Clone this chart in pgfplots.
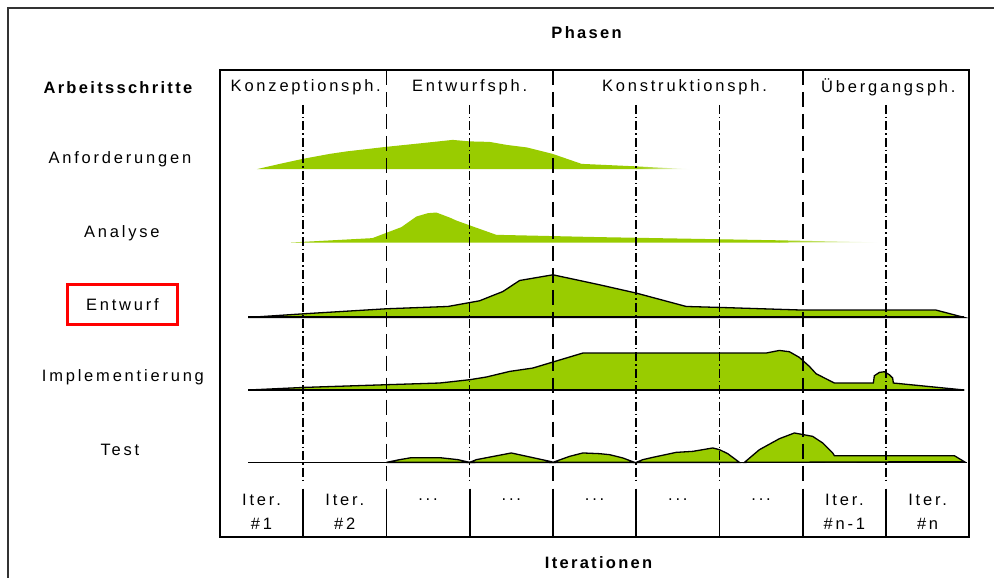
\documentclass[border=0pt]{standalone}
\usepackage{pgfplots}
\pgfplotsset{compat=1.18}
\usepackage{fontspec}
\setmainfont{Liberation Sans}
\newfontfamily\spfont{Liberation Sans}[LetterSpace=17]
\newfontfamily\spbfont{Liberation Sans}[LetterSpace=14]
\definecolor{hg}{HTML}{99CC00}
\newcommand{\lf}{\spfont\fontsize{16.5bp}{19bp}\selectfont}
\newcommand{\bfl}{\spbfont\fontsize{16.5bp}{19bp}\selectfont\bfseries}
\begin{document}
\begin{tikzpicture}
\begin{axis}[
  scale only axis, width=995bp, height=578bp,
  xmin=0,xmax=995,ymin=0,ymax=578, y dir=reverse,
  hide axis, clip=false]
\path[fill=white] (axis cs:0,0) rectangle (axis cs:995,578);
% outer frame
\draw[line width=1.5bp, black!80] (axis cs:8,578) -- (axis cs:8,8) -- (axis cs:995,8);

% ---- humps ----
% Anforderungen
\addplot[draw=none, fill=hg] coordinates {(257,169.3) (280,164) (303,159) (330,154) (347,151.5) (386,147) (420,143.5) (453,140) (470,141.5) (490,142) (507,145) (527,147.5) (553,154) (582,164) (637,166.5) (637,169.3)} -- cycle;
\addplot[draw=none, left color=hg, right color=white] coordinates {(636.5,166.5) (690,169.3) (636.5,169.3)} -- cycle;
% Analyse
\addplot[draw=none, fill=hg] coordinates {(291,242.7) (372.7,238.3) (401.7,227.3) (416.7,216.7) (428.3,213.3) (436.7,212.7) (450,217.7) (456.7,220.7) (473.3,226.7) (496.7,235) (600,237.3) (780,240.5) (780,242.7)} -- cycle;
\addplot[draw=none, left color=hg, right color=white] coordinates {(779.5,240.5) (878,242.5) (779.5,242.7)} -- cycle;
% Entwurf
\addplot[draw=black, line width=1.3bp, fill=hg] coordinates {(248.3,317.7) (304.3,314) (386.7,309) (448.3,306.7) (480,301) (503.3,291.7) (520,280.7) (553.3,275) (580,280.7) (600,285) (636.7,293.3) (686.7,306.7) (721.7,307.7) (803.3,310.3) (936.7,310.3) (965,317.7)} -- cycle;
\addplot[black, line width=2bp] coordinates {(248.3,317.7) (965,317.7)};
% Implementierung
\addplot[draw=black, line width=1.3bp, fill=hg] coordinates {(248.3,390.3) (304.3,387.7) (386.7,385) (440,383.3) (470,380) (486.7,377.3) (510,371.7) (533.3,368.3) (553.3,362.3) (583.3,353.3) (766.7,353.3) (780,350.7) (790,352) (800,357.7) (810,366.7) (816.7,374) (835,383.3) (874,383.3) (875,376) (880,372.7) (885,372) (890,375) (893.3,378.3) (894,383.3) (965,390.3)} -- cycle;
\addplot[black, line width=2bp] coordinates {(248.3,390.3) (965,390.3)};
% Test
\addplot[black, line width=1.5bp] coordinates {(248.3,462.7) (968,462.7)};
\addplot[draw=black, line width=1.3bp, fill=hg] coordinates {(386.7,462.7) (400,460) (411.7,458) (440,458) (458.3,460) (470,462.7)} -- cycle;
\addplot[draw=black, line width=1.3bp, fill=hg] coordinates {(470,462.7) (476.7,460) (511.7,453.3) (551.7,462) (553.3,462.7)} -- cycle;
\addplot[draw=black, line width=1.3bp, fill=hg] coordinates {(553.3,462.7) (570,456.7) (583.3,453.3) (600,454) (610,455) (623.3,458.3) (635,462.7)} -- cycle;
\addplot[draw=black, line width=1.3bp, fill=hg] coordinates {(636.7,462.7) (643.3,460) (653.3,457.7) (676.7,452.7) (693.3,451.7) (713.3,448.3) (720,450) (728.3,454) (740,462.7)} -- cycle;
\addplot[draw=black, line width=1.3bp, fill=hg] coordinates {(745,462.7) (760,450) (780,439) (795,433.3) (813.3,436.7) (823.3,443.3) (833.3,453.3) (835,456) (955,456) (965,462)} -- cycle;

% ---- grid lines ----
\foreach \xx in {386.7,553.3,803.3}{
  \edef\tmp{\noexpand\addplot[black, line width=1.8bp, dash pattern=on 15bp off 7bp] coordinates {(\xx,70) (\xx,484)};}\tmp
}
\foreach \xx in {303.3,470,636.7,720,886.7}{
  \edef\tmp{\noexpand\addplot[black, line width=1.6bp, dash pattern=on 9bp off 3bp on 1.5bp off 3bp] coordinates {(\xx,105) (\xx,484)};}\tmp
}
\foreach \xx in {303.3,386.7,470,553.3,636.7,720,803.3,886.7}{
  \edef\tmp{\noexpand\addplot[black, line width=1.8bp] coordinates {(\xx,489) (\xx,537)};}\tmp
}
\draw[line width=2bp] (axis cs:220,70) rectangle (axis cs:970,537);

% ---- texts ----
\node[font=\bfl] at (axis cs:587,33) {Phasen};
\node[font=\bfl] at (axis cs:599,563) {Iterationen};
\node[font=\bfl] at (axis cs:118,88) {Arbeitsschritte};
\node[font=\lf] at (axis cs:120,159) {Anforderungen};
\node[font=\lf] at (axis cs:122,233) {Analyse};
\node[font=\lf, draw=red, line width=2.5bp, minimum width=110bp, minimum height=40bp] at (axis cs:122.5,304.5) {Entwurf};
\node[font=\lf] at (axis cs:123,378) {Implementierung};
\node[font=\lf] at (axis cs:120,450) {Test};
\node[font=\lf] at (axis cs:306,87) {Konzeptionsph.};
\node[font=\lf] at (axis cs:470,87) {Entwurfsph.};
\node[font=\lf] at (axis cs:685,87) {Konstruktionsph.};
\node[font=\lf] at (axis cs:889,87) {Übergangsph.};
\node[font=\lf] at (axis cs:261.7,500) {Iter.};
\node[font=\lf] at (axis cs:261.7,524) {\#1};
\node[font=\lf] at (axis cs:345,500) {Iter.};
\node[font=\lf] at (axis cs:345,524) {\#2};
\node[font=\lf] at (axis cs:845,500) {Iter.};
\node[font=\lf] at (axis cs:845,524) {\#n-1};
\node[font=\lf] at (axis cs:928.3,500) {Iter.};
\node[font=\lf] at (axis cs:928.3,524) {\#n};
\node[font=\lf] at (axis cs:428.3,500) {...};
\node[font=\lf] at (axis cs:511.7,500) {...};
\node[font=\lf] at (axis cs:595,500) {...};
\node[font=\lf] at (axis cs:678.3,500) {...};
\node[font=\lf] at (axis cs:761.7,500) {...};
\end{axis}
\end{tikzpicture}
\end{document}
